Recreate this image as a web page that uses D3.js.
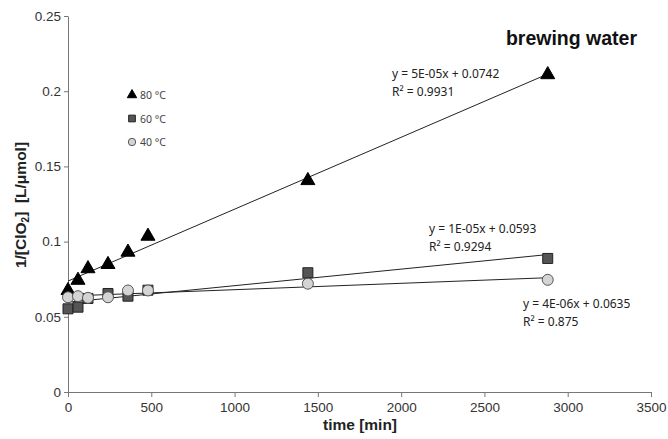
<!DOCTYPE html>
<html>
<head>
<meta charset="utf-8">
<script src="https://cdn.jsdelivr.net/npm/d3@7/dist/d3.min.js"></script>
<style>
  body { margin: 0; background: #fff; }
  .axis text { font-family: Arial, "Liberation Sans", sans-serif; font-size: 13.5px; fill: #333; }
  .axis path, .axis line { stroke: #777; }
  .note { font-family: "Noto Sans", "Open Sans", sans-serif; font-size: 12px; fill: #222; }
</style>
</head>
<body>
<svg id="chart"></svg>
<script>
// sampling times (min)
const times = [0, 60, 120, 240, 360, 480, 1440, 2880];

// 1/[ClO2] values
const temp80 = [0.0675, 0.0743, 0.082, 0.0848, 0.093, 0.1036, 0.1406, 0.211];
const temp60 = [0.0553, 0.0564, 0.0622, 0.0655, 0.0637, 0.0677, 0.0793, 0.0888];
const temp40 = [0.063, 0.0637, 0.0626, 0.063, 0.0675, 0.0675, 0.072, 0.0746];

const seriesNames = ["80 °C", "60 °C", "40 °C"];
const fitLines = [
  ["y = 5E-05x + 0.0742", "R² = 0.9931"],
  ["y = 1E-05x + 0.0593", "R² = 0.9294"],
  ["y = 4E-06x + 0.0635", "R² = 0.875"]
];

const xTicks = [0, 500, 1000, 1500, 2000, 2500, 3000, 3500];
const xTickLabels = ["0", "500", "1000", "1500", "2000", "2500", "3000", "3500"];
const yTicks = [0, 0.05, 0.1, 0.15, 0.2, 0.25];
const yTickLabels = ["0", "0.05", "0.1", "0.15", "0.2", "0.25"];

const width = 668, height = 439;
const margin = {top: 16, right: 17, bottom: 47, left: 68};
const inner_width = width - margin.left - margin.right;
const inner_height = height - margin.top - margin.bottom;

const svg = d3.select("#chart").attr("width", width).attr("height", height);
const chart = svg.append("g").attr("transform", `translate(${margin.left}, ${margin.top})`);

const xscale = d3.scaleLinear().domain([0, 3500]).range([0, inner_width]);
const yscale = d3.scaleLinear().domain([0, 0.25]).range([inner_height, 0]);

// axes
chart.append("g")
  .attr("class", "axis")
  .attr("transform", `translate(0, ${inner_height})`)
  .call(d3.axisBottom(xscale).tickValues(xTicks).tickFormat((d, i) => xTickLabels[i])
    .tickSize(5).tickSizeOuter(0).tickPadding(5));

chart.append("g")
  .attr("class", "axis")
  .call(d3.axisLeft(yscale).tickValues(yTicks).tickFormat((d, i) => yTickLabels[i])
    .tickSize(4).tickSizeOuter(0).tickPadding(3));

// axis titles
svg.append("text")
  .attr("x", 360)
  .attr("y", 430)
  .attr("text-anchor", "middle")
  .style("font-family", "Arial, 'Liberation Sans', sans-serif")
  .style("font-size", "15.5px")
  .style("font-weight", "bold")
  .style("fill", "#222")
  .text("time [min]");

const ytitle = svg.append("text")
  .attr("transform", `translate(26, 205) rotate(-90)`)
  .attr("text-anchor", "middle")
  .style("font-family", "Arial, 'Liberation Sans', sans-serif")
  .style("font-size", "15.5px")
  .style("font-weight", "bold")
  .style("fill", "#222");
ytitle.append("tspan").text("1/[ClO");
ytitle.append("tspan").attr("baseline-shift", "-25%").style("font-size", "10px").text("2");
ytitle.append("tspan").text("]\u00a0 [L/μmol]");

// chart title
svg.append("text")
  .attr("x", 637)
  .attr("y", 45)
  .attr("text-anchor", "end")
  .style("font-family", "Arial, 'Liberation Sans', sans-serif")
  .style("font-size", "19.5px")
  .style("font-weight", "bold")
  .style("fill", "#111")
  .text("brewing water");

const series = [
  {name: seriesNames[0], values: temp80, shape: d3.symbolTriangle, size: 85, fill: "#000", stroke: "#000"},
  {name: seriesNames[1], values: temp60, shape: d3.symbolSquare, size: 100, fill: "#555", stroke: "#222"},
  {name: seriesNames[2], values: temp40, shape: d3.symbolCircle, size: 95, fill: "#d4d4d4", stroke: "#555"}
];

// least squares trend line, as the spreadsheet did it
function fit(xs, ys) {
  const mx = d3.mean(xs), my = d3.mean(ys);
  const sxy = d3.sum(xs, (x, i) => (x - mx) * (ys[i] - my));
  const sxx = d3.sum(xs, x => (x - mx) * (x - mx));
  const slope = sxy / sxx;
  return {slope: slope, intercept: my - slope * mx};
}

const line = d3.line().x(d => xscale(d.x)).y(d => yscale(d.y));

series.forEach(s => {
  const f = fit(times, s.values);
  const x0 = 0, x1 = d3.max(times);
  chart.append("path")
    .attr("d", line([{x: x0, y: f.intercept}, {x: x1, y: f.intercept + f.slope * x1}]))
    .attr("fill", "none")
    .attr("stroke", "#222")
    .attr("stroke-width", 1);
});

series.forEach(s => {
  chart.selectAll(null)
    .data(s.values.map((v, i) => ({x: times[i], y: v})))
    .join("path")
    .attr("transform", d => `translate(${xscale(d.x)}, ${yscale(d.y)})`)
    .attr("d", d3.symbol().type(s.shape).size(s.size))
    .attr("fill", s.fill)
    .attr("stroke", s.stroke)
    .attr("stroke-width", 1);
});

// legend
const legend = svg.append("g").attr("transform", "translate(132, 95)");
series.forEach((s, i) => {
  const g = legend.append("g").attr("transform", `translate(0, ${i * 23.5})`);
  g.append("path")
    .attr("d", d3.symbol().type(s.shape).size(s.size * 0.45))
    .attr("fill", s.fill)
    .attr("stroke", s.stroke);
  g.append("text")
    .attr("x", 8)
    .attr("y", 4)
    .style("font-family", "'Noto Sans', 'Open Sans', sans-serif")
    .style("font-size", "10.5px")
    .style("fill", "#444")
    .text(s.name);
});

// trend line equations
const notePos = [[392, 78], [429, 233], [523, 308]];
fitLines.forEach((lines, i) => {
  lines.forEach((t, j) => {
    svg.append("text")
      .attr("class", "note")
      .attr("x", notePos[i][0])
      .attr("y", notePos[i][1] + j * 17.5)
      .text(t);
  });
});
</script>
</body>
</html>
